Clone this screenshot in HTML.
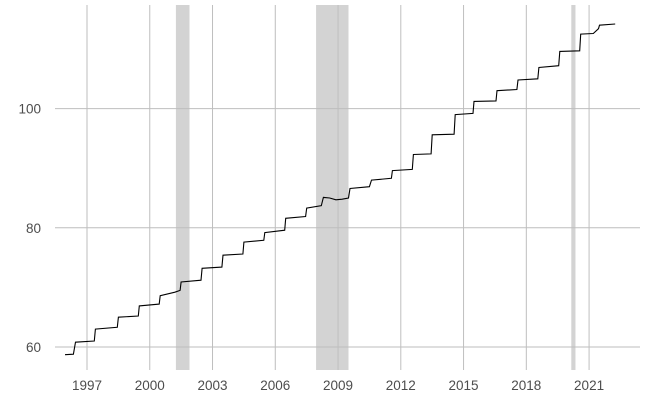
<!DOCTYPE html>
<html><head><meta charset="utf-8"><style>
body{margin:0;background:#fff}
svg{display:block;font-family:"Liberation Sans",sans-serif}
</style></head><body>
<svg id="chart" width="650" height="400"></svg>
<script>
const recessions=[[2001.25,2001.9],[2007.95,2009.5],[2020.15,2020.35]];
const xTicks=[1997,2000,2003,2006,2009,2012,2015,2018,2021];
const yTicks=[60,80,100];
const years=[1995.95,1996.35,1996.45,1997.35,1997.4,1998.45,1998.5,1999.45,1999.5,2000.45,2000.5,2001.2,2001.45,2001.5,2002.45,2002.5,2003.45,2003.5,2004.45,2004.5,2005.45,2005.5,2006.45,2006.5,2007.45,2007.5,2008.2,2008.3,2008.6,2008.9,2009.2,2009.5,2009.57,2010.5,2010.6,2011.55,2011.6,2012.55,2012.6,2013.45,2013.5,2014.55,2014.6,2015.45,2015.5,2016.55,2016.6,2017.55,2017.6,2018.55,2018.6,2019.55,2019.6,2020.55,2020.6,2021.2,2021.45,2021.5,2022.25];
const values=[58.7,58.8,60.8,61.0,63.0,63.3,65.0,65.2,66.9,67.2,68.6,69.2,69.5,70.9,71.2,73.2,73.4,75.4,75.6,77.6,77.9,79.2,79.6,81.6,81.9,83.3,83.7,85.1,85.0,84.7,84.8,85.0,86.6,86.9,88.0,88.3,89.6,89.8,92.3,92.4,95.6,95.7,99.0,99.2,101.2,101.3,103.0,103.2,104.8,105.0,106.9,107.2,109.6,109.7,112.5,112.6,113.4,114.0,114.2];
const NS="http://www.w3.org/2000/svg";
const svg=document.getElementById('chart');
const X=y=>87+(y-1997)*20.92;
const Y=v=>347-(v-60)*5.96;
function mk(t,a){const e=document.createElementNS(NS,t);for(const k in a)e.setAttribute(k,a[k]);svg.appendChild(e);return e;}
recessions.forEach(r=>{
 const e=mk('rect',{x:X(r[0]),y:5,width:X(r[1])-X(r[0]),height:365,fill:'#d3d3d3'});
 
 
});
yTicks.forEach(t=>{
 const l=mk('line',{x1:55,x2:640,y1:Y(t),y2:Y(t),stroke:'#bebebe','stroke-width':1});
 
 
 const tx=mk('text',{x:41,y:Y(t)+5,'text-anchor':'end','font-size':13.5,fill:'#4d4d4d'});
 tx.textContent=t;
 
 
});
xTicks.forEach(t=>{
 const l=mk('line',{x1:X(t),x2:X(t),y1:5,y2:370,stroke:'#bebebe','stroke-width':1});
 
 
 const tx=mk('text',{x:X(t),y:390,'text-anchor':'middle','font-size':13.5,fill:'#4d4d4d'});
 tx.textContent=t;
 
 
});
const p=mk('polyline',{points:years.map((y,i)=>X(y).toFixed(1)+','+Y(values[i]).toFixed(1)).join(' '),fill:'none',stroke:'#000','stroke-width':1.1});


</script>
</body></html>
